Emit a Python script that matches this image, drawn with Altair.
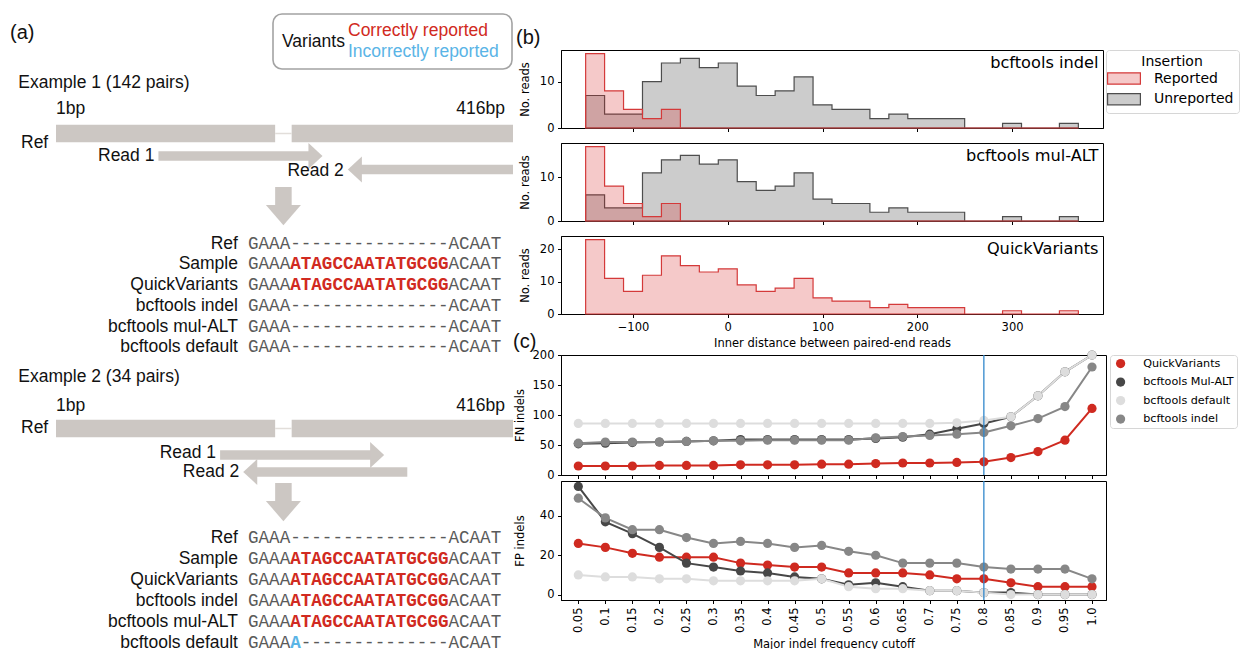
import altair as alt
import pandas as pd

# ============================ values ============================
# (a) schematic of the two read-pair examples (positions in bp)
ref_length_bp = 416
insertion_start_bp = 200
insertion_seq = "ATAGCCAATATGCGG"
left_flank = "GAAA"
right_flank = "ACAAT"
example_titles = ["Example 1 (142 pairs)", "Example 2 (34 pairs)"]
read1_start_bp = [94, 150]
read1_end_bp = [243, 299]
read2_start_bp = [266, 171]
read2_end_bp = [416, 320]
alignment_rows = ["Ref", "Sample", "QuickVariants", "bcftools indel",
                  "bcftools mul-ALT", "bcftools default"]
called_example1 = ["", insertion_seq, insertion_seq, "", "", ""]
called_example2 = ["", insertion_seq, insertion_seq, insertion_seq, insertion_seq, "A"]
variant_status = ["Correctly reported", "Incorrectly reported"]

# (b) inner distance histograms (20 bp bins)
hist_edges = [-150, -130, -110, -90, -70, -50, -30, -10, 10, 30, 50, 70, 90,
              110, 130, 150, 170, 190, 210, 230, 250, 270, 290, 310, 330, 350, 370]
indel_reported = [16, 8, 4, 2, 4, 0, 0, 0, 0, 0, 0, 0, 0, 0, 0, 0, 0, 0, 0, 0, 0, 0, 0, 0, 0, 0]
indel_unreported = [7, 3, 3, 10, 14, 15, 13, 14, 9, 7, 8, 11, 5, 4, 4, 2, 3, 2, 2, 2, 0, 0, 1, 0, 0, 1]
mulalt_reported = [17, 8, 4, 1, 4, 0, 0, 0, 0, 0, 0, 0, 0, 0, 0, 0, 0, 0, 0, 0, 0, 0, 0, 0, 0, 0]
mulalt_unreported = [6, 3, 3, 11, 14, 15, 13, 14, 9, 7, 8, 11, 5, 4, 4, 2, 3, 2, 2, 2, 0, 0, 1, 0, 0, 1]
quick_reported = [23, 11, 7, 12, 18, 15, 13, 14, 9, 7, 8, 11, 5, 4, 4, 2, 3, 2, 2, 2, 0, 0, 1, 0, 0, 1]
insertion_groups = ["Reported", "Unreported"]

# (c) FN / FP indels versus major indel frequency cutoff
cutoffs = ["0.05", "0.1", "0.15", "0.2", "0.25", "0.3", "0.35", "0.4", "0.45", "0.5",
           "0.55", "0.6", "0.65", "0.7", "0.75", "0.8", "0.85", "0.9", "0.95", "1.0"]
tools = ["QuickVariants", "bcftools Mul-ALT", "bcftools default", "bcftools indel"]
fn_quick = [15, 15, 15, 16, 16, 16, 17, 17, 17, 18, 18, 19, 20, 20, 21, 22, 29, 39, 58, 111]
fn_mulalt = [52, 53, 54, 55, 56, 57, 59, 59, 59, 59, 59, 61, 63, 68, 77, 86, 97, 132, 172, 200]
fn_default = [86, 86, 86, 86, 86, 86, 86, 86, 86, 86, 86, 86, 86, 86, 87, 91, 97, 132, 172, 200]
fn_indel = [53, 55, 55, 55, 56, 57, 57, 58, 58, 58, 58, 62, 64, 66, 68, 71, 82, 94, 114, 180]
fp_quick = [26, 24, 21, 19, 19, 19, 16, 15, 14, 14, 11, 11, 11, 10, 8, 8, 6, 4, 4, 4]
fp_mulalt = [55, 37, 31, 24, 16, 14, 12, 11, 9, 8, 5, 6, 4, 2, 2, 1, 1, 0, 0, 0]
fp_default = [10, 9, 9, 8, 8, 7, 7, 7, 7, 8, 4, 3, 3, 2, 2, 1, 0, 0, 0, 0]
fp_indel = [49, 39, 33, 33, 29, 26, 27, 26, 24, 25, 22, 20, 16, 16, 16, 14, 13, 13, 13, 8]
selected_cutoff = "0.8"

# ============================ styles ============================
INK = "#111111"
RED = "#d12a21"
BLUE_TXT = "#5ab4e6"
BAR = "#ccc7c3"
SEQ = "#5a5a5a"
SANS = "Liberation Sans"
MONO = "Liberation Mono"
PF = "DejaVu Sans"
TOOL_COLORS = ["#cf2a20", "#474747", "#dddddd", "#878787"]
VLINE = "#3288cc"

# vertical layout of the schematic blocks (px from the top of panel a)
block_layout = [
    dict(title=73.7, bp=100, ref=124.5, ref_label=133.5, read1=147, read2=160.5,
         read1_label=147, read2_label=162, arrow_top=178, arrow_base=196,
         row0=234.7, row_step=20.7),
    dict(title=368, bp=397, ref=419.5, ref_label=419, read1=446, read2=463,
         read1_label=444, read2_label=463, arrow_top=474, arrow_base=492,
         row0=528.7, row_step=21.1),
]

W_A, H_A = 504, 636
bp_scale = alt.Scale(domain=[-41.7, ref_length_bp], nice=False, zero=False)
char_scale = alt.Scale(domain=[-22.65, 25.12], nice=False, zero=False)
ya = alt.Scale(domain=[0, H_A], reverse=True, nice=False, zero=False)
status_scale = alt.Scale(domain=variant_status, range=[RED, BLUE_TXT])
HEAD_R = "M-1.08,-1L0,0L-1.08,1Z"
HEAD_L = "M1.08,-1L0,0L1.08,1Z"
HEAD_DOWN = "M-1,0L1,0L0,1.15Z"
HEAD_BP = 6


def one(label):
    return pd.DataFrame({"t": [label]})


def note(label, x, y, size, font, align="left", color=INK, weight="normal"):
    return alt.Chart(one(label)).mark_text(
        align=align, baseline="middle", fontSize=size, font=font, color=color,
        fontWeight=weight
    ).encode(x=alt.value(x), y=alt.value(y), text="t:N")


def Xbp(f):
    return alt.X(f, scale=bp_scale, axis=None)


def Ya(f):
    return alt.Y(f, scale=ya, axis=None)


# ---------------- (a) data tables ----------------
ins_end = insertion_start_bp + len(insertion_seq)
ref_df = pd.DataFrame([{"start": s, "end": e, "y": L["ref"]} for L in block_layout
                       for (s, e) in [(1, insertion_start_bp), (ins_end, ref_length_bp)]])
gap_df = pd.DataFrame([{"start": insertion_start_bp, "end": ins_end, "y": L["ref"]}
                       for L in block_layout])
reads = []
for k, L in enumerate(block_layout):
    reads.append(dict(name="Read 1", start=read1_start_bp[k], end=read1_end_bp[k],
                      y=L["read1"], ly=L["read1_label"], direction="right"))
    reads.append(dict(name="Read 2", start=read2_start_bp[k], end=read2_end_bp[k],
                      y=L["read2"], ly=L["read2_label"], direction="left"))
reads_df = pd.DataFrame(reads)
arrow_df = pd.DataFrame([{"start": insertion_start_bp, "end": ins_end,
                          "top": L["arrow_top"], "base": L["arrow_base"]} for L in block_layout])
title_df = pd.DataFrame({"t": example_titles, "y": [L["title"] for L in block_layout]})
reflab_df = pd.DataFrame({"t": ["Ref", "Ref"], "y": [L["ref_label"] for L in block_layout]})
bp_left_df = pd.DataFrame({"t": ["1bp"] * 2, "bp": [1, 1], "y": [L["bp"] for L in block_layout]})
bp_right_df = pd.DataFrame({"t": [f"{ref_length_bp}bp"] * 2, "bp": [ref_length_bp] * 2,
                            "y": [L["bp"] for L in block_layout]})

seg_rows, label_rows = [], []
for L, called_list in zip(block_layout, [called_example1, called_example2]):
    for i, (name, called) in enumerate(zip(alignment_rows, called_list)):
        y = L["row0"] + i * L["row_step"]
        label_rows.append({"t": name, "y": y, "c": 0})
        seg_rows.append({"t": left_flank, "c": 0, "y": y, "kind": "plain", "status": ""})
        if called:
            seg_rows.append({"t": called, "c": len(left_flank), "y": y, "kind": "called",
                             "status": variant_status[0] if called == insertion_seq else variant_status[1]})
        gap_len = len(insertion_seq) - len(called)
        if gap_len:
            seg_rows.append({"t": "-" * gap_len, "c": len(left_flank) + len(called), "y": y,
                             "kind": "plain", "status": ""})
        seg_rows.append({"t": right_flank, "c": len(left_flank) + len(insertion_seq), "y": y,
                         "kind": "plain", "status": ""})
seg_df = pd.DataFrame(seg_rows)
rowlab_df = pd.DataFrame(label_rows)

txt = dict(baseline="middle", font=SANS, fontSize=17.5, color=INK)

ref_bar = alt.Chart(ref_df).mark_rule(color=BAR, strokeWidth=17.5).encode(
    x=Xbp("start:Q"), x2="end:Q", y=Ya("y:Q"))
gap_line = alt.Chart(gap_df).mark_rule(color="#e2deda", strokeWidth=1.5).encode(
    x=Xbp("start:Q"), x2="end:Q", y=Ya("y:Q"))
shafts = alt.Chart(reads_df).transform_calculate(
    s0=f"datum.direction == 'right' ? datum.start : datum.start + {HEAD_BP}",
    s1=f"datum.direction == 'right' ? datum.end - {HEAD_BP} : datum.end",
).mark_rule(color=BAR, strokeWidth=9.5).encode(x=Xbp("s0:Q"), x2="s1:Q", y=Ya("y:Q"))
heads = alt.Chart(reads_df).transform_calculate(
    tip="datum.direction == 'right' ? datum.end : datum.start"
).mark_point(filled=True, opacity=1, size=676, color=BAR, strokeWidth=0).encode(
    x=Xbp("tip:Q"), y=Ya("y:Q"),
    shape=alt.Shape("direction:N", scale=alt.Scale(domain=["right", "left"], range=[HEAD_R, HEAD_L]),
                    legend=None))
dshaft = alt.Chart(arrow_df).mark_rect(color=BAR).encode(
    x=Xbp("start:Q"), x2="end:Q", y=Ya("top:Q"), y2="base:Q")
dhead = alt.Chart(arrow_df).transform_calculate(mid="(datum.start + datum.end) / 2").mark_point(
    shape=HEAD_DOWN, size=1225, filled=True, opacity=1, strokeWidth=0, color=BAR).encode(
    x=Xbp("mid:Q"), y=Ya("base:Q"))
titles = alt.Chart(title_df).mark_text(align="left", **txt).encode(
    x=alt.value(9.3), y=Ya("y:Q"), text="t:N")
ref_labels = alt.Chart(reflab_df).mark_text(align="left", **txt).encode(
    x=alt.value(12), y=Ya("y:Q"), text="t:N")
bp_left = alt.Chart(bp_left_df).mark_text(align="left", **txt).encode(
    x=Xbp("bp:Q"), y=Ya("y:Q"), text="t:N")
bp_right = alt.Chart(bp_right_df).mark_text(align="right", dx=-8, **txt).encode(
    x=Xbp("bp:Q"), y=Ya("y:Q"), text="t:N")
read_labels = alt.Chart(reads_df).mark_text(align="right", dx=-4, **txt).encode(
    x=Xbp("start:Q"), y=Ya("ly:Q"), text="name:N")
row_labels = alt.Chart(rowlab_df).mark_text(align="right", dx=-10, **txt).encode(
    x=alt.X("c:Q", scale=char_scale, axis=None), y=Ya("y:Q"), text="t:N")
plain_segs = alt.Chart(seg_df).transform_filter(alt.datum.kind == "plain").mark_text(
    align="left", baseline="middle", font=MONO, fontSize=17.6, color=SEQ).encode(
    x=alt.X("c:Q", scale=char_scale, axis=None), y=Ya("y:Q"), text="t:N")
called_segs = alt.Chart(seg_df).transform_filter(alt.datum.kind == "called").mark_text(
    align="left", baseline="middle", font=MONO, fontSize=17.6, fontWeight="bold").encode(
    x=alt.X("c:Q", scale=char_scale, axis=None), y=Ya("y:Q"), text="t:N",
    color=alt.Color("status:N", scale=status_scale, legend=None))

# the "Variants" key box
vbox = alt.Chart(one("")).mark_rect(fill="white", stroke="#a3a3a3", strokeWidth=1.6,
                                    cornerRadius=9).encode(
    x=alt.value(264), x2=alt.value(503), y=alt.value(5), y2=alt.value(60))
vtitle = note("Variants", 273, 33, 17.5, SANS)
ventries = alt.Chart(pd.DataFrame({"status": variant_status, "y": [22, 43]})).mark_text(
    align="left", baseline="middle", font=SANS, fontSize=17.5).encode(
    x=alt.value(339), y=Ya("y:Q"), text="status:N",
    color=alt.Color("status:N", scale=status_scale, legend=None))
panel_a = note("(a)", 1, 24, 20, SANS)

left = alt.layer(
    vbox, vtitle, ventries, panel_a, titles, ref_labels, bp_left, bp_right,
    ref_bar, gap_line, shafts, heads, dshaft, dhead, read_labels,
    row_labels, plain_segs, called_segs
).resolve_scale(x="independent").properties(
    width=W_A, height=H_A, view=alt.ViewBackground(stroke="transparent"))

# ---------------- (b) histograms ----------------
HW, HH = 542, 78
hist_x_scale = alt.Scale(domain=[-176, 396], nice=False, zero=False)
fill_scale = alt.Scale(domain=insertion_groups,
                       range=["rgba(214,39,40,0.25)", "rgba(128,128,128,0.4)"])
stroke_scale = alt.Scale(domain=insertion_groups, range=["#d43a3a", "#4d4d4d"])
ins_legend = alt.Legend(
    title="Insertion", orient="right", offset=3, padding=5, titleFontSize=14,
    titleFontWeight="normal", titleFont=PF, titleAnchor="middle", titlePadding=2.5,
    titleColor="black", labelFontSize=14, labelFont=PF, labelColor="black", rowPadding=2.7,
    symbolType="M-2.9,-1H2.9V1H-2.9Z", symbolSize=128, symbolOffset=6, labelOffset=23,
    symbolStrokeWidth=1.2, strokeColor="#d6d6d6", cornerRadius=3, fillColor="white")


def step_df(counts, status):
    # outline of a step histogram: bin edges with the count of the bin that starts there
    xs = [hist_edges[0]] + hist_edges[:-1] + [hist_edges[-1], hist_edges[-1]]
    ys = [0] + list(counts) + [counts[-1], 0]
    return pd.DataFrame({"x": xs, "n": ys, "status": status})


def hist_panel(series, name, yticks, last, legend, extras=()):
    ymax = max(max(c) for c, _ in series) * 1.05
    xaxis = alt.Axis(values=[-100, 0, 100, 200, 300], labels=last, tickSize=3.5,
                     title="Inner distance between paired-end reads" if last else None,
                     titlePadding=4.5)
    yaxis = alt.Axis(values=yticks, title="No. reads", titlePadding=8.6, tickSize=3.5)
    layers = []
    for counts, status in series:
        layers.append(alt.Chart(step_df(counts, status)).mark_area(
            interpolate="step-after", strokeWidth=1.2, orient="vertical").encode(
            x=alt.X("x:Q", scale=hist_x_scale, axis=xaxis),
            y=alt.Y("n:Q", scale=alt.Scale(domain=[0, ymax], nice=False), axis=yaxis, stack=None),
            fill=alt.Fill("status:N", scale=fill_scale, legend=legend),
            stroke=alt.Stroke("status:N", scale=stroke_scale, legend=legend)))
    layers.append(note(name, HW - 4.5, 13, 16.2, PF, align="right", color="black"))
    layers.extend(extras)
    return alt.layer(*layers).properties(width=HW, height=HH)


h1 = hist_panel([(indel_unreported, "Unreported"), (indel_reported, "Reported")],
                "bcftools indel", [0, 10], False, ins_legend,
                extras=[note("(b)", -45, -12, 20, SANS)])
h2 = hist_panel([(mulalt_unreported, "Unreported"), (mulalt_reported, "Reported")],
                "bcftools mul-ALT", [0, 10], False, None)
h3 = hist_panel([(quick_reported, "Reported")], "QuickVariants", [0, 10, 20], True, None,
                extras=[note("(c)", -48, 106, 20, SANS)])

# ---------------- (c) line charts ----------------
LW = 545
cut_scale = alt.Scale(type="point", domain=cutoffs, padding=0.579, align=0.553)
dot_scale = alt.Scale(domain=tools, range=TOOL_COLORS)
tool_color = dict(zip(tools, TOOL_COLORS))
tool_legend = alt.Legend(
    title=None, orient="right", offset=4, padding=3, labelFontSize=11.2, labelFont=PF,
    labelColor="black", rowPadding=6.5, symbolType="circle", symbolSize=85,
    symbolOpacity=1, symbolOffset=2, labelOffset=17, strokeColor="#d6d6d6",
    cornerRadius=3, fillColor="white")


def line_panel(values, ytitle, ydomain, yticks, last, legend, title_pad, height):
    df = pd.DataFrame([{"cutoff": c, "tool": t, "line_color": tool_color[t], "v": v}
                       for t, vals in zip(tools, values) for c, v in zip(cutoffs, vals)])
    if last:
        xaxis = alt.Axis(labelAngle=270, title="Major indel frequency cutoff", tickSize=3.5,
                         titlePadding=6)
    else:
        xaxis = alt.Axis(labels=False, title=None, tickSize=3.5)
    yaxis = alt.Axis(values=yticks, title=ytitle, titlePadding=title_pad, tickSize=3.5)
    x = alt.X("cutoff:O", scale=cut_scale, axis=xaxis)
    y = alt.Y("v:Q", scale=alt.Scale(domain=ydomain, nice=False, zero=False), axis=yaxis)
    base = alt.Chart(df)
    lines = base.transform_calculate(
        cutoff_idx="indexof(" + str(cutoffs) + ", datum.cutoff)"
    ).mark_line(strokeWidth=2).encode(
        x=x, y=y, stroke=alt.Stroke("line_color:N", scale=None),
        detail="tool:N", order=alt.Order("cutoff_idx:Q"))
    dots = base.mark_circle(size=85, opacity=1).encode(
        x=x, y=y, color=alt.Color("tool:N", scale=dot_scale, legend=legend))
    rule = alt.Chart(pd.DataFrame({"cutoff": [selected_cutoff]})).mark_rule(
        color=VLINE, strokeWidth=1.3).encode(x=alt.X("cutoff:O", scale=cut_scale, axis=xaxis))
    return alt.layer(lines, dots, rule).properties(width=LW, height=height)


fn = line_panel([fn_quick, fn_mulalt, fn_default, fn_indel], "FN indels", [0, 200],
                [0, 50, 100, 150, 200], False, tool_legend, 6.3, 120)
fp = line_panel([fp_quick, fp_mulalt, fp_default, fp_indel], "FP indels", [-2.75, 57.75],
                [0, 20, 40], True, None, 13.6, 119)

# ---------------- assemble ----------------
RES = dict(x="independent", y="independent", color="independent", fill="independent",
           stroke="independent", shape="independent")
LEG = dict(color="independent", fill="independent", stroke="independent", shape="independent")


def indep(c):
    return c.resolve_scale(**RES).resolve_legend(**LEG)


def spacer(h):
    return alt.Chart(one("")).mark_point(opacity=0, size=1).encode(
        x=alt.value(5), y=alt.value(h / 2)).properties(
        width=10, height=h, view=alt.ViewBackground(stroke="transparent"))


right = indep(alt.vconcat(spacer(35), h1, spacer(3), h2, spacer(3), h3, spacer(29), fn, fp,
                          spacing=6, bounds="flush"))
chart = indep(alt.hconcat(left, right, spacing=48, bounds="flush")).properties(padding=0)

chart = chart.configure(font=PF).configure_view(
    stroke="black", strokeWidth=1
).configure_axis(
    grid=False, domainColor="black", tickColor="black", labelColor="black",
    titleColor="black", labelFontSize=11.5, titleFontSize=11.5, titleFontWeight="normal",
    labelFont=PF, titleFont=PF, labelPadding=3.5, domainWidth=1, tickWidth=1
)

chart.save("out.html", embed_options={"renderer": "svg", "actions": False})
